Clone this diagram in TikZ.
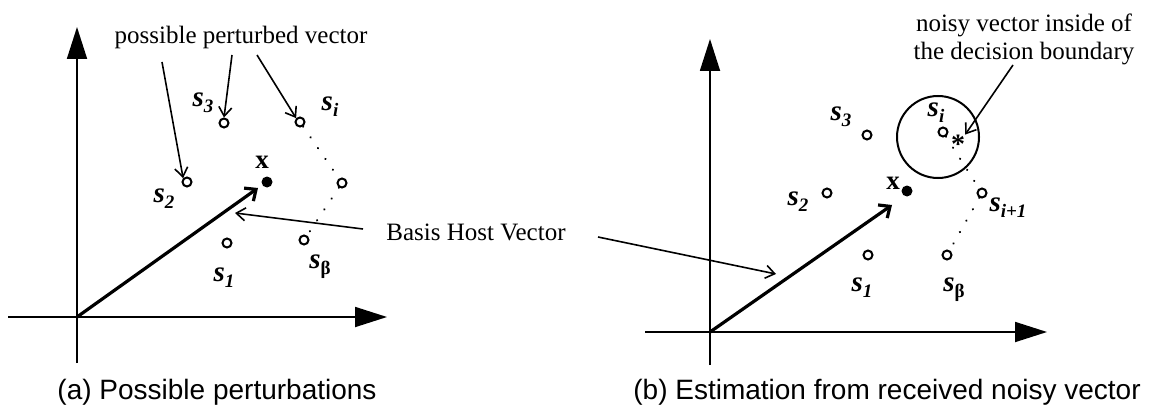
\documentclass[tikz,border=0pt]{standalone}
\usepackage{fontspec}
\setmainfont{Liberation Serif}
\newfontfamily\capfont{Liberation Sans}
\usetikzlibrary{arrows.meta}
\newcommand\svec[1]{\textbf{\textit{s}}\raisebox{-0.45ex}{\fontsize{19}{19}\selectfont\textbf{\textit{#1}}}}
\begin{document}
\begin{tikzpicture}[x=1pt,y=-1pt,
 axis/.style={line width=1.8pt,-{Triangle[length=32pt,width=20pt]}},
 hostvec/.style={line width=3.2pt,-{Straight Barb[length=9pt,width=16pt]}},
 pointer/.style={line width=1.6pt,-{Straight Barb[length=9pt,width=13pt]}},
 pt/.style={circle,draw,line width=2pt,inner sep=0pt,minimum size=9pt},
 xdot/.style={circle,fill,inner sep=0pt,minimum size=11pt},
 slabel/.style={font=\fontsize{29}{29}\selectfont, inner sep=0pt},
 xlabel/.style={font=\fontsize{27}{27}\selectfont\bfseries, inner sep=0pt},
 note/.style={font=\fontsize{25}{28}\selectfont, inner sep=0pt, align=center},
 caption/.style={font=\capfont\fontsize{28}{28}\selectfont, inner sep=0pt},
 dotline/.style={line width=2.3pt, dash pattern=on 0.1pt off 13pt, line cap=round}
]
\useasboundingbox (0,0) rectangle (1156,409);

% ---------------- panel (a) ----------------
\coordinate (oA) at (77,317);
\coordinate (yA) at (77,27);
\coordinate (yAb) at (77,363);
\coordinate (xAl) at (8,317);
\coordinate (xA) at (387,317);
\draw[axis] (yAb) -- (yA);
\draw[axis] (xAl) -- (xA);

\node[xdot] (dA) at (267,182) {};
\node[xlabel] (lxA) at (262,162) {x};
\coordinate (vA) at (258,188);
\draw[hostvec] (oA) -- (vA);

\node[pt] (s1A) at (227,243) {};
\node[pt] (s2A) at (187,182) {};
\node[pt] (s3A) at (224,123) {};
\node[pt] (siA) at (300,122) {};
\node[pt] (srA) at (342,183) {};
\node[pt] (sbA) at (304,240) {};

\node[slabel] (l1A) at (224,278) {\svec{1}};
\node[slabel] (l2A) at (164,199) {\svec{2}};
\node[slabel] (l3A) at (203,103) {\svec{3}};
\node[slabel] (liA) at (330,107) {\svec{i}};
\node[slabel] (lbA) at (320,267) {\textbf{\textit{s}}\raisebox{-0.45ex}{\fontsize{19}{19}\selectfont\textbf{β}}};

\draw[dotline] (siA) -- (srA) -- (sbA);

\node[note] (nA) at (241,37) {possible perturbed vector};
\coordinate (p1) at (162,62);
\coordinate (p2) at (232,55);
\coordinate (p3) at (257,55);
\draw[pointer] (p1) -- (s2A.north west);
\draw[pointer] (p2) -- (s3A.north);
\draw[pointer] (p3) -- (siA.north west);

\node[note] (host) at (476,232) {Basis Host Vector};
\coordinate (h1) at (363,229);
\coordinate (h1t) at (235,213);
\coordinate (h2) at (598,237);
\coordinate (h2t) at (776,274);
\draw[pointer] (h1) -- (h1t);
\draw[pointer] (h2) -- (h2t);

\node[caption] (capA) at (217,392) {(a) Possible perturbations};

% ---------------- panel (b) ----------------
\coordinate (oB) at (710,332);
\coordinate (yB) at (710,39);
\coordinate (yBb) at (710,365);
\coordinate (xBl) at (645,332);
\coordinate (xB) at (1047,332);
\draw[axis] (yBb) -- (yB);
\draw[axis] (xBl) -- (xB);

\node[xdot] (dB) at (907,191) {};
\node[xlabel] (lxB) at (893,183) {x};
\coordinate (vB) at (892,205);
\draw[hostvec] (oB) -- (vB);

\node[pt] (s1B) at (868,255) {};
\node[pt] (s2B) at (827,193) {};
\node[pt] (s3B) at (867,135) {};
\node[pt] (siB) at (943,132) {};
\node[pt] (si1B) at (982,193) {};
\node[pt] (sbB) at (947,255) {};

\node[slabel] (l1B) at (862,288) {\svec{1}};
\node[slabel] (l2B) at (798,202) {\svec{2}};
\node[slabel] (l3B) at (841,117) {\svec{3}};
\node[slabel] (liB) at (936,113) {\svec{i}};
\node[slabel] (li1B) at (1008,208) {\svec{i+1}};
\node[slabel] (lbB) at (954,290) {\textbf{\textit{s}}\raisebox{-0.45ex}{\fontsize{19}{19}\selectfont\textbf{β}}};

\node[inner sep=0pt, font=\fontsize{28}{28}\selectfont\bfseries] (star) at (958,144) {*};
\draw[line width=2pt] (938,137) circle[radius=41];

\draw[dotline] (siB) -- (si1B) -- (sbB);

\node[note] (nB) at (1024,39) {noisy vector inside of\\the decision boundary};
\coordinate (p4) at (1013,65);
\draw[pointer] (p4) -- (star.north east);

\node[caption] (capB) at (887,392) {(b) Estimation from received noisy vector};
\end{tikzpicture}
\end{document}
